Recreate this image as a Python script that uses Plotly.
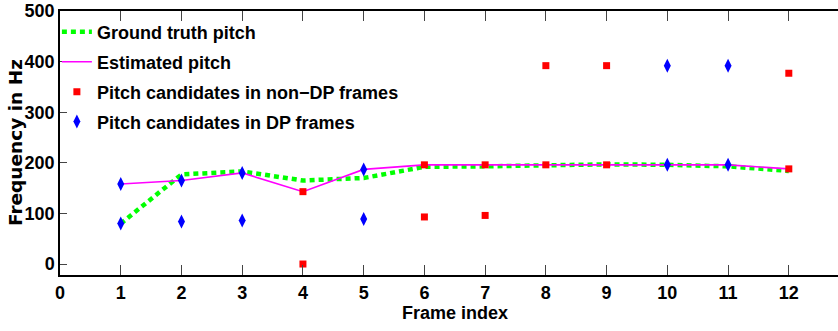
import plotly.graph_objects as go

frames = list(range(1, 13))
ground_truth = [80, 177, 183, 165, 170, 192, 193, 195, 197, 196, 193, 184]
estimated = [158, 165, 180, 143, 187, 196, 196, 196, 196, 196, 196, 188]

nondp_x = [4, 4, 6, 6, 7, 7, 8, 8, 9, 9, 12, 12]
nondp_y = [143, 0, 196, 93, 196, 96, 196, 392, 196, 392, 188, 377]

dp_x = [1, 1, 2, 2, 3, 3, 5, 5, 10, 10, 11, 11]
dp_y = [158, 80, 165, 84, 180, 86, 187, 89, 196, 392, 196, 392]

x_ticks = list(range(0, 13))
y_ticks = [0, 100, 200, 300, 400, 500]

FONT = "Liberation Sans Narrow, Arial Narrow, Liberation Sans, Arial, sans-serif"

fig = go.Figure()
fig.add_trace(go.Scatter(x=frames, y=ground_truth, mode="lines", name="Ground truth pitch",
                         legendgroup="a",
                         line=dict(color="#00ff00", width=4.5, dash="5px,4px")))
fig.add_trace(go.Scatter(x=frames, y=estimated, mode="lines", name="Estimated pitch",
                         legendgroup="b",
                         line=dict(color="#ff00ff", width=1.6)))
fig.add_trace(go.Scatter(x=nondp_x, y=nondp_y, mode="markers", name="Pitch candidates in non\u2212DP frames",
                         legendgroup="c",
                         marker=dict(symbol="square", size=7, color="#ff0000")))
fig.add_trace(go.Scatter(x=dp_x, y=dp_y, mode="markers", name="Pitch candidates in DP frames",
                         legendgroup="d",
                         marker=dict(symbol="diamond-tall", size=10, color="#0000ff")))

tickfont = dict(family=FONT, size=18, color="black", weight="bold")

fig.update_layout(
    width=838, height=331,
    margin=dict(l=60, r=0, t=11, b=56, autoexpand=False),
    paper_bgcolor="white", plot_bgcolor="white",
    font=dict(family=FONT, size=18, color="black", weight="bold"),
    showlegend=True,
    legend=dict(x=-0.004, y=0.99, xanchor="left", yanchor="top",
                bgcolor="rgba(0,0,0,0)", borderwidth=0,
                font=dict(family=FONT, size=18, color="black", weight="bold"),
                traceorder="grouped", tracegroupgap=3.5,
                itemwidth=30),
    xaxis=dict(range=[0, 12.81], tickvals=x_ticks, ticktext=[str(v) for v in x_ticks],
               ticks="inside", ticklen=10, tickcolor="#444", tickwidth=1.2,
               showline=True, linecolor="black", linewidth=2, mirror="ticks",
               showgrid=False, zeroline=False, automargin=False,
               tickfont=tickfont),
    yaxis=dict(range=[-21.7, 500], tickvals=y_ticks, ticktext=[str(v) for v in y_ticks],
               ticks="inside", ticklen=7, tickcolor="#444", tickwidth=1.2,
               showline=True, linecolor="black", linewidth=1.5, mirror=False,
               showgrid=False, zeroline=False, automargin=False,
               tickfont=tickfont),
    annotations=[
        dict(text="Frame index", x=6.5, xref="x", y=-0.144, yref="paper",
             xanchor="center", yanchor="middle", showarrow=False,
             font=dict(family=FONT, size=18, color="black", weight="bold")),
        dict(text="Frequency in Hz", x=-0.0578, xref="paper", y=0.5, yref="paper",
             xanchor="center", yanchor="middle", textangle=-90, showarrow=False,
             font=dict(family="DejaVu Sans", size=18.5, color="black", weight="bold")),
    ],
)

fig.write_html("out.html", config={"displayModeBar": False},
               post_script="document.body.style.margin='0';")
